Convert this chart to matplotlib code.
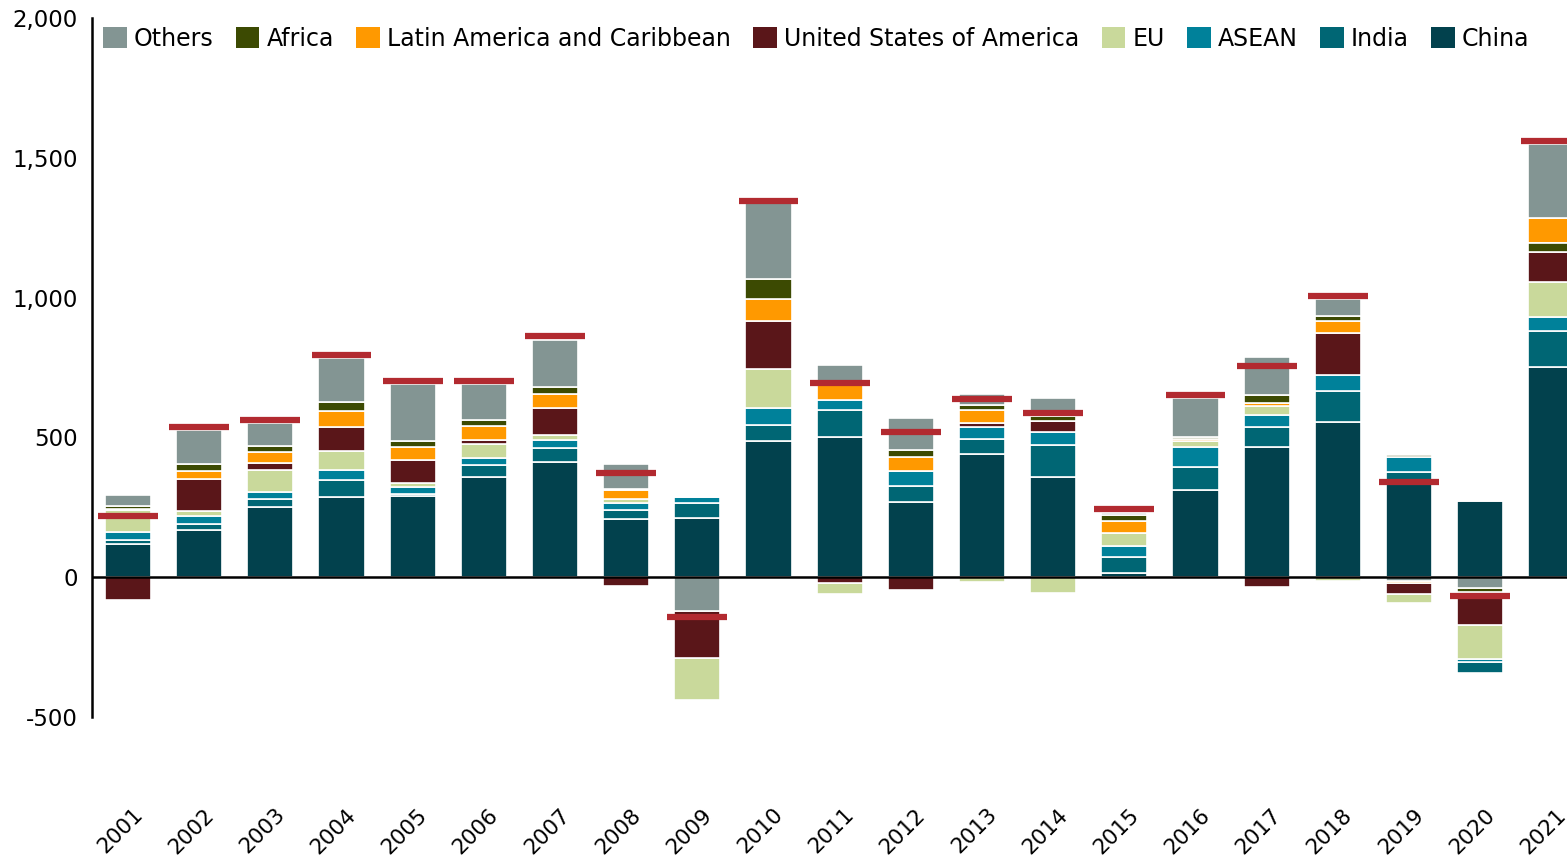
import numpy as np
import matplotlib
matplotlib.use("Agg")
import matplotlib.pyplot as plt
from matplotlib.patches import Patch
import matplotlib.transforms as mtransforms

years = list(range(2001, 2022))

china  = [120, 168, 251, 287, 290, 360, 411, 209, 212, 487, 502, 269, 439, 358, 15, 313, 465, 555, 340, 271, 751]
india  = [12, 22, 28, 59, 8, 40, 51, 32, 53, 58, 95, 57, 55, 116, 59, 80, 71, 110, 35, -41, 131]
asean  = [30, 28, 25, 39, 25, 25, 30, 26, 21, 61, 36, 55, 43, 44, 38, 71, 45, 58, 55, -10, 48]
eu     = [77, 18, 81, 66, 14, 51, 15, 13, -150, 137, -40, 0, -17, -58, 45, 22, 31, -12, -32, -122, 125]
usa    = [-80, 116, 23, 85, 83, 13, 97, -33, -170, 174, -21, -46, 15, 40, -5, 0, -35, 150, -40, -118, 109]
latam  = [4, 29, 38, 60, 45, 51, 50, 32, 0, 79, 53, 49, 47, 0, 43, 10, 10, 44, -6, 0, 87]
africa = [12, 25, 24, 30, 22, 23, 26, 5, 0, 69, 0, 25, 16, 19, 21, 4, 29, 16, 8, -15, 32]
others = [40, 119, 81, 157, 205, 129, 170, 88, -120, 273, 74, 114, 41, 65, 9, 140, 136, 61, -14, -38, 266]
totals = [218, 536, 561, 793, 700, 700, 861, 372, -141, 1347, 696, 518, 639, 586, 243, 650, 757, 1004, 339, -68, 1561]

series_names = ["China", "India", "ASEAN", "EU", "United States of America",
                "Latin America and Caribbean", "Africa", "Others"]
series_values = [china, india, asean, eu, usa, latam, africa, others]
colors = ["#02414D", "#006674", "#00819A", "#C9D99B", "#5A1619",
          "#FF9900", "#3C4A02", "#839593"]
total_color = "#B22A30"

default_order = list(range(8))
# 2021: Africa stacked below Latin America
order_exceptions = {2021: [0, 1, 2, 3, 4, 6, 5, 7]}

n = len(years)
vals = np.array(series_values, dtype=float)
bottoms = np.zeros_like(vals)
for i, yr in enumerate(years):
    order = order_exceptions.get(yr, default_order)
    pos = 0.0
    for s in order:
        v = vals[s, i]
        if v >= 0:
            bottoms[s, i] = pos
            pos += v
    neg = 0.0
    for s in reversed(order):
        v = vals[s, i]
        if v < 0:
            bottoms[s, i] = neg
            neg += v

W, H = 1567, 856
fig = plt.figure(figsize=(W / 100, H / 100), dpi=100)
ax = fig.add_axes([92 / W, (H - 717) / H, 1 - 92 / W, 699 / H])

x = np.arange(n)
bw = 0.647
for s in range(8):
    ax.bar(x, vals[s], bottom=bottoms[s], width=bw, color=colors[s],
           edgecolor="white", linewidth=1.2, zorder=2)

ax.hlines(totals, x - 0.42, x + 0.42, colors=total_color, linewidth=4.5, zorder=4)

ax.axhline(0, color="black", linewidth=1.8, zorder=3)

ax.set_xlim(-0.506, 20.22)
ax.set_ylim(-500, 2000)
ax.set_yticks([-500, 0, 500, 1000, 1500, 2000])
ax.set_yticklabels(["-500", "0", "500", "1,000", "1,500", "2,000"])
ax.tick_params(axis="y", length=0, pad=10, labelsize=16.5)
ax.set_xticks(x)
ax.set_xticklabels([str(y) for y in years], rotation=45, ha="center", fontsize=15.5)
ax.tick_params(axis="x", length=0, pad=63)
offset = mtransforms.ScaledTranslation(-8 / 100, 0, fig.dpi_scale_trans)
for lab in ax.get_xticklabels():
    lab.set_transform(lab.get_transform() + offset)

for side in ["top", "right", "bottom"]:
    ax.spines[side].set_visible(False)
ax.spines["left"].set_linewidth(1.8)

handles = [Patch(facecolor=colors[s], edgecolor="none", label=series_names[s])
           for s in reversed(range(8))]
fig.legend(handles=handles, loc="upper left", bbox_to_anchor=(103 / W, 1 - 27 / H),
           ncol=8, frameon=False, fontsize=17, handlelength=1.0, handleheight=1.0,
           handletextpad=0.3, columnspacing=0.95, borderpad=0, borderaxespad=0)

fig.savefig("out.png", dpi=100)
